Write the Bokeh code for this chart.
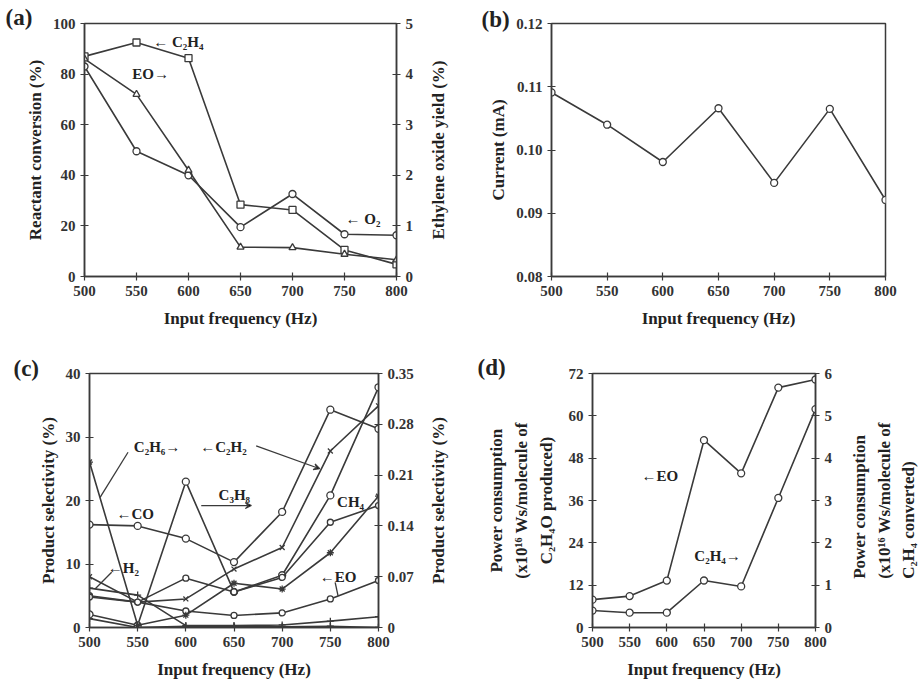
from bokeh.plotting import figure
from bokeh.models import Range1d, LinearAxis, FixedTicker, Label, PrintfTickFormatter, Arrow, VeeHead, Title
from bokeh.layouts import row, column
from bokeh.embed import file_html
from bokeh.resources import INLINE

FONT = "Liberation Serif"
LC = "#3a3a3a"

freq = [500, 550, 600, 650, 700, 750, 800]

# (a) reactant conversion (%) and EO yield (%)
a_c2h4 = [87.0, 92.5, 86.3, 28.4, 26.3, 10.5, 4.8]
a_o2 = [83.0, 49.5, 40.0, 19.5, 32.6, 16.7, 16.3]
a_eo_yield = [4.30, 3.60, 2.10, 0.58, 0.57, 0.44, 0.33]

# (b) current (mA)
b_current = [0.1091, 0.1040, 0.0981, 0.1066, 0.0948, 0.1065, 0.0921]

# (c) product selectivity, left axis (%)
c_co = [16.2, 16.0, 14.0, 10.3, 18.2, 34.3, 31.3]
c_c2h2 = [8.0, 4.0, 4.5, 9.2, 12.6, 27.8, 34.9]
c_h2 = [6.2, 5.1, 0.3, 0.3, 0.4, 1.0, 1.7]
c_eo = [5.0, 4.0, 2.6, 1.9, 2.3, 4.5, 7.4]
c_other = [1.4, 0.0, 0.2, 0.2, 0.1, 0.2, 0.0]
# (c) product selectivity, right axis (%)
c_c3h8 = [0.018, 0.003, 0.201, 0.049, 0.072, 0.182, 0.331]
c_c2h6 = [0.228, 0.003, 0.017, 0.061, 0.053, 0.103, 0.181]
c_ch4 = [0.042, 0.035, 0.068, 0.049, 0.069, 0.145, 0.168]

# (d) power consumption
d_eo = [7.9, 8.9, 13.3, 53.1, 43.7, 68.0, 70.3]
d_c2h4 = [0.40, 0.35, 0.35, 1.11, 0.97, 3.06, 5.16]

a_left_ticks = [0, 20, 40, 60, 80, 100]
a_right_ticks = [0, 1, 2, 3, 4, 5]
b_ticks = [0.08, 0.09, 0.10, 0.11, 0.12]
c_left_ticks = [0, 10, 20, 30, 40]
c_right_ticks = [0, 0.07, 0.14, 0.21, 0.28, 0.35]
c_right_labels = ["0", "0.07", "0.14", "0.21", "0.28", "0.35"]
d_left_ticks = [0, 12, 24, 36, 48, 60, 72]
d_right_ticks = [0, 1, 2, 3, 4, 5, 6]


def style_axis(ax, label=None):
    ax.axis_label = label
    ax.axis_label_text_font = FONT
    ax.axis_label_text_font_style = "bold"
    ax.axis_label_text_font_size = "17px"
    ax.axis_label_text_color = "#222"
    ax.major_label_text_font = FONT
    ax.major_label_text_font_style = "bold"
    ax.major_label_text_font_size = "15px"
    ax.major_label_text_color = "#333"
    ax.axis_line_color = LC
    ax.axis_line_width = 1.5
    ax.major_tick_line_color = LC
    ax.major_tick_line_width = 1.2
    ax.major_tick_in = 4
    ax.major_tick_out = 4
    ax.minor_tick_line_color = None


def make_fig(w, h, l, r, t, b, yr):
    p = figure(width=w, height=h, output_backend="svg", toolbar_location=None,
               x_range=Range1d(500, 800), y_range=Range1d(*yr),
               min_border_left=l, min_border_right=r, min_border_top=t, min_border_bottom=b)
    p.grid.visible = False
    p.outline_line_color = LC
    p.outline_line_width = 1.5
    p.xaxis.ticker = FixedTicker(ticks=freq)
    p.xaxis.axis_label_standoff = 10
    return p


def title_strip(w, h, t, b, text, standoff=3):
    """Narrow empty figure whose left title acts as a bottom-to-top axis title."""
    s = figure(width=w, height=h, output_backend="svg", toolbar_location=None,
               x_axis_type=None, y_axis_type=None, x_range=Range1d(0, 1), y_range=Range1d(0, 1),
               min_border_left=w - 2, min_border_right=0, min_border_top=t, min_border_bottom=b)
    s.grid.visible = False
    s.outline_line_color = None
    s.add_layout(Title(text=text, align="center", text_font=FONT, text_font_style="bold",
                       text_font_size="17px", text_color="#222", standoff=standoff,
                       text_line_height=1.3), "left")
    return s


def tag(p, text, offset, standoff):
    p.title.text = text
    p.title.align = "left"
    p.title.offset = offset
    p.title.standoff = standoff
    p.title.text_font = FONT
    p.title.text_font_style = "bold"
    p.title.text_font_size = "23px"
    p.title.text_color = "#222"


def series(p, y, marker, rng=None, size=7):
    kw = {} if rng is None else {"y_range_name": rng}
    p.line(freq, y, line_color=LC, line_width=1.6, **kw)
    p.scatter(freq, y, marker=marker, size=size, fill_color="white", line_color=LC, line_width=1.3, **kw)


def label(p, x, y, text, size="15px"):
    p.add_layout(Label(x=x, y=y, text=text, text_font=FONT, text_font_style="bold",
                       text_font_size=size, text_color="#222", text_baseline="middle",
                       text_align="left"))


def leader(p, x0, y0, x1, y1, head=True):
    if head:
        p.add_layout(Arrow(x_start=x0, y_start=y0, x_end=x1, y_end=y1, line_color=LC, line_width=1.3,
                           end=VeeHead(size=6, line_color=LC, line_width=1.2)))
    else:
        p.segment(x0=[x0], y0=[y0], x1=[x1], y1=[y1], line_color=LC, line_width=1.3)


# ---- (a)
pa = make_fig(425, 340, 84, 29, 23, 64, (0, 100))
pa.extra_y_ranges = {"r": Range1d(0, 5)}
series(pa, a_c2h4, "square")
series(pa, a_o2, "circle")
series(pa, a_eo_yield, "triangle", rng="r")
ra = LinearAxis(y_range_name="r")
pa.add_layout(ra, "right")
style_axis(pa.xaxis[0], "Input frequency (Hz)")
style_axis(pa.yaxis[0], "Reactant conversion (%)")
style_axis(ra)
pa.yaxis[0].ticker = FixedTicker(ticks=a_left_ticks)
ra.ticker = FixedTicker(ticks=a_right_ticks)
label(pa, 566, 92.5, "← C₂H₄")
label(pa, 546, 80, "EO→")
label(pa, 751, 22.8, "← O₂")
tag(pa, "(a)", -79, -12)

sa = title_strip(26, 340, 23, 64, "Ethylene oxide yield (%)")

# ---- (b)
pb = make_fig(471, 340, 100, 37, 18, 62, (0.08, 0.12))
series(pb, b_current, "circle")
style_axis(pb.xaxis[0], "Input frequency (Hz)")
style_axis(pb.yaxis[0], "Current (mA)")
pb.yaxis[0].ticker = FixedTicker(ticks=b_ticks)
pb.yaxis[0].formatter = PrintfTickFormatter(format="%.2f")
tag(pb, "(b)", -70, -16)

# ---- (c)
pc = make_fig(425, 345, 89, 47, 29, 58, (0, 40))
pc.extra_y_ranges = {"r": Range1d(0, 0.35)}
series(pc, c_other, "cross")
series(pc, c_h2, "cross")
series(pc, c_eo, "circle", size=6)
series(pc, c_co, "circle")
series(pc, c_c2h2, "x")
series(pc, c_c3h8, "circle", rng="r")
series(pc, c_c2h6, "asterisk", rng="r")
series(pc, c_ch4, "circle", rng="r", size=6)
rc = LinearAxis(y_range_name="r")
pc.add_layout(rc, "right")
style_axis(pc.xaxis[0], "Input frequency (Hz)")
style_axis(pc.yaxis[0], "Product selectivity (%)")
style_axis(rc)
pc.yaxis[0].ticker = FixedTicker(ticks=c_left_ticks)
rc.ticker = FixedTicker(ticks=c_right_ticks)
rc.major_label_overrides = {t: s for t, s in zip(c_right_ticks, c_right_labels)}
label(pc, 546, 28.5, "C₂H₆→")
leader(pc, 540, 27.6, 511, 20.5, head=False)
label(pc, 615, 28.5, "←C₂H₂")
leader(pc, 673, 28.6, 739, 25.0)
label(pc, 528, 17.8, "←CO")
label(pc, 634, 20.9, "C₃H₈")
leader(pc, 616, 19.2, 668, 19.2)
label(pc, 519, 9.3, "←H₂")
leader(pc, 523, 8.7, 506, 6.1, head=False)
label(pc, 757, 19.8, "CH₄")
label(pc, 739, 7.9, "←EO")
leader(pc, 755, 7.1, 758, 5.0, head=False)
tag(pc, "(c)", -76, -14)

sc = title_strip(26, 345, 29, 58, "Product selectivity (%)")

# ---- (d)
pd = make_fig(384, 345, 141, 19, 33, 55, (0, 72))
pd.extra_y_ranges = {"r": Range1d(0, 6)}
series(pd, d_eo, "circle")
series(pd, d_c2h4, "circle", rng="r")
rd = LinearAxis(y_range_name="r")
pd.add_layout(rd, "right")
style_axis(pd.xaxis[0], "Input frequency (Hz)")
style_axis(pd.yaxis[0], "Power consumption\n(x10¹⁶ Ws/molecule of\nC₂H₄O produced)")
pd.yaxis[0].axis_label_standoff = 10
pd.yaxis[0].axis_label_text_line_height = 1.3
style_axis(rd)
pd.yaxis[0].ticker = FixedTicker(ticks=d_left_ticks)
rd.ticker = FixedTicker(ticks=d_right_ticks)
label(pd, 566, 42.9, "←EO")
label(pd, 637, 20.2, "C₂H₄→")
tag(pd, "(d)", -115, -12)

sd = title_strip(87, 345, 33, 55, "Power consumption\n(x10¹⁶ Ws/molecule of\nC₂H₄ converted)", 4)

layout = column(row(pa, sa, pb), row(pc, sc, pd, sd))
open("out.html", "w").write(file_html(layout, INLINE))
